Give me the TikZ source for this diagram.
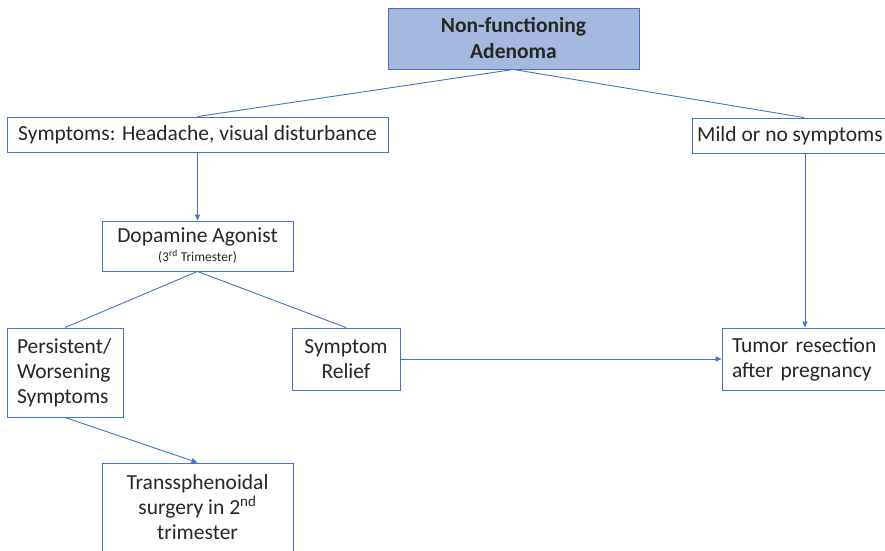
\documentclass[tikz,border=0pt]{standalone}
\usepackage{fontspec}
\setmainfont{Carlito}
\usetikzlibrary{arrows.meta}

\definecolor{boxblue}{RGB}{68,114,196}
\definecolor{headfill}{RGB}{164,185,221}
\definecolor{inkgray}{RGB}{38,38,38}

\begin{document}
\begin{tikzpicture}[x=1pt, y=-1pt,
  every node/.style={draw=boxblue, line width=0.9pt, inner sep=0pt, align=center,
    text=inkgray, font=\fontsize{21.5}{25}\selectfont},
  leftbox/.style={align=left, inner xsep=10pt},
  link/.style={draw=boxblue, line width=0.9pt},
  arr/.style={link, -{Triangle[length=6pt, width=5pt]}}]
  \useasboundingbox (0,0) rectangle (885,550);

  \node[fill=headfill, minimum width=251pt, minimum height=61pt,
    font=\bfseries\fontsize{21.5}{26}\selectfont] (nfa) at (513.5,38.5) {Non-functioning\\Adenoma};
  \node[minimum width=381pt, minimum height=35pt] (symp) at (197.5,134.5) {Symptoms: Headache, visual disturbance};
  \node[minimum width=196pt, minimum height=35pt] (mild) at (790,135.5) {Mild or no symptoms};
  \node[minimum width=191pt, minimum height=50pt] (da) at (197.5,246)
    {Dopamine Agonist\\[-6pt]{\fontsize{13.5}{15}\selectfont(3\textsuperscript{rd} Trimester)}};
  \node[leftbox, text width=96pt, minimum height=89pt] (pers) at (65,372.5) {Persistent/\\Worsening\\Symptoms};
  \node[minimum width=108pt, minimum height=62pt] (relief) at (346,359) {Symptom\\Relief};
  \node[leftbox, text width=146pt, minimum height=62pt] (tumor) at (805,359) {Tumor resection\\after pregnancy};
  \node[minimum width=191pt, minimum height=88pt] (tss) at (197.5,507)
    {Transsphenoidal\\surgery in 2\textsuperscript{nd}\\trimester};

  \draw[link] (nfa.south) -- (symp.north);
  \draw[link] (nfa.south) -- ([xshift=14pt]mild.north);
  \draw[arr] (symp.south) -- (da.north);
  \draw[link] (da.south) -- (pers.north);
  \draw[link] (da.south) -- (relief.north);
  \draw[arr] (pers.south) -- (tss.north);
  \draw[arr] (relief.east) -- (tumor.west);
  \draw[arr] ([xshift=15pt]mild.south) -- (tumor.north);
\end{tikzpicture}
\end{document}
